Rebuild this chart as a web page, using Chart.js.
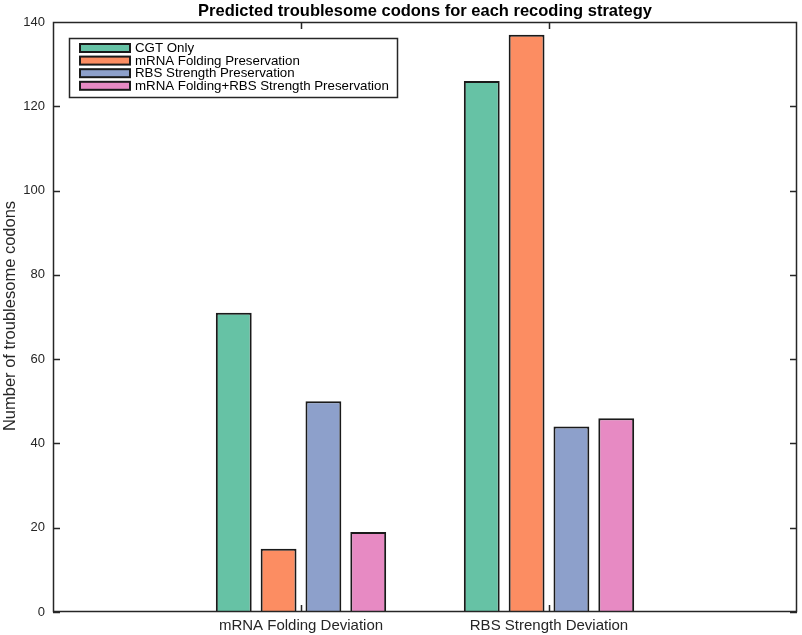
<!DOCTYPE html>
<html>
<head>
<meta charset="utf-8">
<script src="https://cdn.jsdelivr.net/npm/chart.js@4"></script>
<style>
  html, body { margin: 0; padding: 0; background: #fff; }
  #wrap { width: 802px; height: 635px; }
</style>
</head>
<body>
<div id="wrap"><canvas id="codonChart" width="802" height="635"></canvas></div>
<script>
// categories (blank ones at either end give the empty margins of the axis)
const categories = ['', 'mRNA Folding Deviation', 'RBS Strength Deviation', ''];
const seriesNames = ['CGT Only', 'mRNA Folding Preservation', 'RBS Strength Preservation', 'mRNA Folding+RBS Strength Preservation'];
const cgtOnly = [null, 71, 126, null];
const foldingPres = [null, 15, 137, null];
const rbsPres = [null, 50, 44, null];
const bothPres = [null, 19, 46, null];
const colors = ['#66c2a5', '#fc8d62', '#8da0cb', '#e78ac3'];
const yTicks = [0, 20, 40, 60, 80, 100, 120, 140];

const FONT = "'Liberation Sans', Arial, Helvetica, sans-serif";
const INK = '#262626';

const series = [cgtOnly, foldingPres, rbsPres, bothPres];

const frame = {
    id: 'frame',
    afterDatasetsDraw(chart) {
        const ctx = chart.ctx;
        const a = chart.chartArea;
        const x = chart.scales.x, y = chart.scales.y;
        const tl = 7;
        ctx.save();
        ctx.strokeStyle = INK;
        ctx.lineWidth = 1.5;
        ctx.beginPath();
        ctx.rect(a.left + 0.5, a.top + 0.5, a.right - a.left - 1, a.bottom - a.top - 1);
        // inward ticks on left/right
        yTicks.forEach(v => {
            const py = Math.round(y.getPixelForValue(v)) + 0.5;
            ctx.moveTo(a.left, py); ctx.lineTo(a.left + tl, py);
            ctx.moveTo(a.right, py); ctx.lineTo(a.right - tl, py);
        });
        // inward ticks on top/bottom at category positions
        [1, 2].forEach(i => {
            const px = Math.round(x.getPixelForValue(i)) + 0.5;
            ctx.moveTo(px, a.top); ctx.lineTo(px, a.top + tl);
            ctx.moveTo(px, a.bottom); ctx.lineTo(px, a.bottom - tl);
        });
        ctx.stroke();

        // title
        ctx.fillStyle = '#000';
        ctx.font = 'bold 16.5px ' + FONT;
        ctx.textAlign = 'center';
        ctx.textBaseline = 'middle';
        ctx.fillText('Predicted troublesome codons for each recoding strategy', (a.left + a.right) / 2, 11);

        // y-axis title
        ctx.save();
        ctx.translate(15, 316);
        ctx.rotate(-Math.PI / 2);
        ctx.fillStyle = INK;
        ctx.font = '16.5px ' + FONT;
        ctx.textBaseline = 'alphabetic';
        ctx.fillText('Number of troublesome codons', 0, 0);
        ctx.restore();

        // legend box
        const lx = 69, ly = 38, lw = 328, lh = 59;
        ctx.fillStyle = '#fff';
        ctx.fillRect(lx, ly, lw, lh);
        ctx.lineWidth = 1.5;
        ctx.strokeStyle = INK;
        ctx.strokeRect(lx + 0.5, ly + 0.5, lw, lh);
        chart.data.datasets.forEach((ds, i) => {
            const cy = 48 + i * 12.6;
            ctx.fillStyle = ds.backgroundColor;
            ctx.fillRect(80, cy - 4, 50, 8);
            ctx.lineWidth = 2;
            ctx.strokeStyle = '#1a1a1a';
            ctx.strokeRect(80, cy - 4, 50, 8);
            ctx.fillStyle = '#000';
            ctx.font = '13.3px ' + FONT;
            ctx.textAlign = 'left';
            ctx.textBaseline = 'middle';
            ctx.fillText(ds.label, 135, cy + 0.5);
        });
        ctx.restore();
    }
};

new Chart(document.getElementById('codonChart').getContext('2d'), {
    type: 'bar',
    data: {
        labels: categories,
        datasets: series.map((vals, i) => ({
            label: seriesNames[i],
            data: vals,
            backgroundColor: colors[i],
            borderColor: '#1a1a1a',
            borderWidth: 2,
            categoryPercentage: 0.723,
            barPercentage: 0.8
        }))
    },
    options: {
        responsive: false,
        animation: false,
        layout: { padding: { top: 22, right: 3, left: 0, bottom: 0 } },
        plugins: { legend: { display: false }, tooltip: { enabled: false } },
        scales: {
            x: {
                offset: false,
                grid: { display: false, drawTicks: false },
                border: { display: false },
                ticks: { color: INK, font: { family: FONT, size: 15 }, padding: 5, autoSkip: false, maxRotation: 0 },
                afterFit(scale) { scale.height = 23; }
            },
            y: {
                min: 0, max: 140,
                grid: { display: false, drawTicks: false },
                border: { display: false },
                ticks: { stepSize: 20, color: INK, font: { family: FONT, size: 13 }, padding: 8 },
                afterFit(scale) { scale.width = 53; }
            }
        }
    },
    plugins: [frame]
});
</script>
</body>
</html>
